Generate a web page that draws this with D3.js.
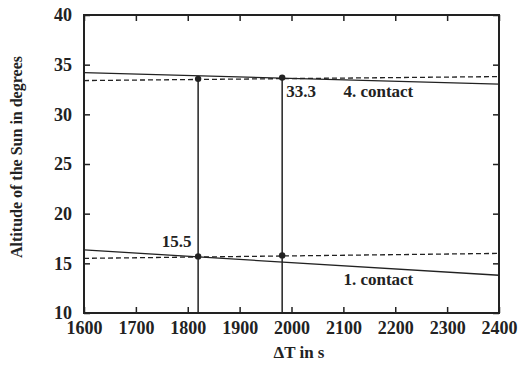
<!DOCTYPE html>
<html>
<head>
  <meta charset="utf-8">
  <title>Altitude of the Sun vs Delta T</title>
  <style>
    body { margin: 0; background: #fff; }
    svg text { font-family: "Liberation Serif", "DejaVu Serif", serif; font-weight: bold; fill: #222; }
  </style>
</head>
<body>
  <script src="https://d3js.org/d3.v7.min.js"></script>
  <script>
    // values
    var xTicks = [1600, 1700, 1800, 1900, 2000, 2100, 2200, 2300, 2400];
    var yTicks = [10, 15, 20, 25, 30, 35, 40];
    var lineDT = [1600, 2400];
    var contact4Solid = [34.2, 33.05];
    var contact4Dashed = [33.4, 33.8];
    var contact1Solid = [16.35, 13.8];
    var contact1Dashed = [15.5, 16.0];
    var markerDT = [1820, 1982];
    var markerUpper = [33.57, 33.7];
    var markerLower = [15.7, 15.8];

    var margin = {top: 15, right: 28, bottom: 56, left: 84},
        width = 527 - margin.left - margin.right,
        height = 369 - margin.top - margin.bottom;

    var svg = d3.select("body").append("svg")
        .attr("width", 527)
        .attr("height", 369);

    var chart = svg.append("g")
        .attr("transform", "translate(" + margin.left + "," + margin.top + ")");

    var x = d3.scaleLinear().domain([1600, 2400]).range([0, width]);
    var y = d3.scaleLinear().domain([10, 40]).range([height, 0]);

    var ink = "#222";

    // frame
    chart.append("rect")
        .attr("width", width).attr("height", height)
        .attr("fill", "none").attr("stroke", ink).attr("stroke-width", 2);

    // axes with inward ticks
    var axB = chart.append("g")
        .attr("transform", "translate(0," + height + ")")
        .call(d3.axisBottom(x).tickValues(xTicks).tickSize(-6).tickPadding(8).tickFormat(d3.format("d")));
    var axT = chart.append("g")
        .call(d3.axisTop(x).tickValues(xTicks).tickSize(-6).tickFormat(""));
    var axL = chart.append("g")
        .call(d3.axisLeft(y).tickValues(yTicks).tickSize(-6).tickPadding(12));
    var axR = chart.append("g")
        .attr("transform", "translate(" + width + ",0)")
        .call(d3.axisRight(y).tickValues(yTicks).tickSize(-6).tickFormat(""));

    [axB, axT, axL, axR].forEach(function(g){
      g.select(".domain").remove();
      g.selectAll(".tick line").attr("stroke", ink).attr("stroke-width", 1.5);
      g.selectAll(".tick text").attr("font-size", 18).attr("fill", ink)
        .style("font-family", "'Liberation Serif', serif").style("font-weight", "bold");
    });

    // lines
    var line = d3.line()
        .x(function(d){ return x(d[0]); })
        .y(function(d){ return y(d[1]); });

    function pairs(vals){ return lineDT.map(function(t, i){ return [t, vals[i]]; }); }

    [[contact4Solid, null], [contact4Dashed, "5,3"], [contact1Solid, null], [contact1Dashed, "5,3"]]
      .forEach(function(s){
        chart.append("path")
            .datum(pairs(s[0]))
            .attr("d", line)
            .attr("fill", "none")
            .attr("stroke", ink)
            .attr("stroke-width", 1.3)
            .attr("stroke-dasharray", s[1]);
      });

    // vertical drop lines
    chart.selectAll(".drop")
        .data(markerDT)
        .enter().append("line")
        .attr("x1", function(d){ return x(d); })
        .attr("x2", function(d){ return x(d); })
        .attr("y1", function(d, i){ return y(markerUpper[i]); })
        .attr("y2", height)
        .attr("stroke", ink).attr("stroke-width", 1.5);

    // markers
    var pts = markerDT.map(function(t, i){ return [t, markerUpper[i]]; })
        .concat(markerDT.map(function(t, i){ return [t, markerLower[i]]; }));
    chart.selectAll(".pt")
        .data(pts)
        .enter().append("circle")
        .attr("cx", function(d){ return x(d[0]); })
        .attr("cy", function(d){ return y(d[1]); })
        .attr("r", 3.2)
        .attr("fill", ink);

    // annotations
    chart.append("text").attr("x", x(1750)).attr("y", y(15.7) - 9)
        .attr("font-size", 17).text("15.5");
    chart.append("text").attr("x", x(1990)).attr("y", y(33.7) + 19)
        .attr("font-size", 17).text("33.3");
    chart.append("text").attr("x", x(2100)).attr("y", y(33.7) + 19)
        .attr("font-size", 17).text("4. contact");
    chart.append("text").attr("x", x(2100)).attr("y", y(15.7) + 29)
        .attr("font-size", 17).text("1. contact");

    // axis titles
    svg.append("text")
        .attr("x", 299)
        .attr("y", 358)
        .attr("text-anchor", "middle")
        .attr("font-size", 17)
        .text("\u0394T in s");

    svg.append("text")
        .attr("transform", "translate(22,157) rotate(-90)")
        .attr("text-anchor", "middle")
        .attr("font-size", 16)
        .text("Altitude of the Sun in degrees");
  </script>
</body>
</html>
